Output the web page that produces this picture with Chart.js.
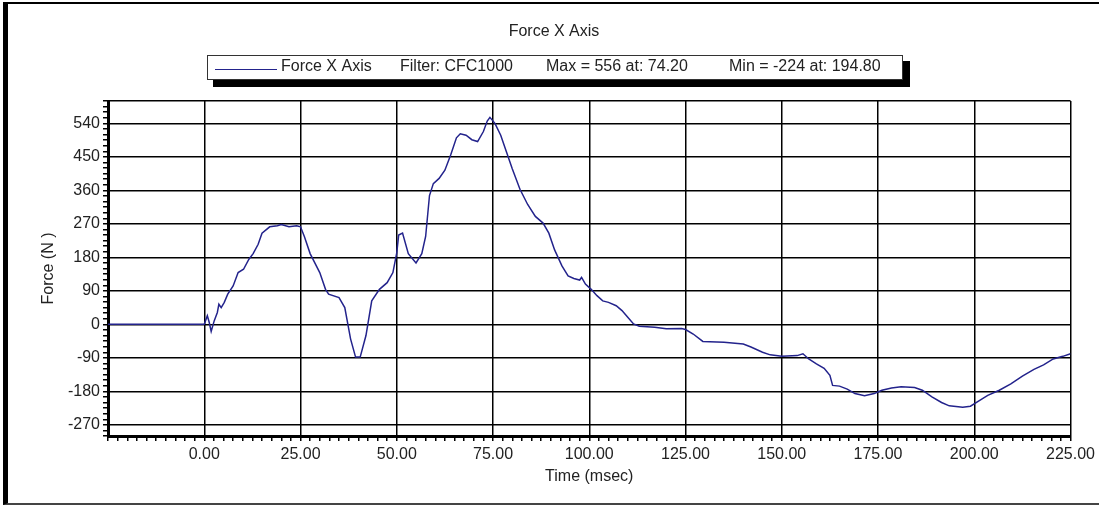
<!DOCTYPE html>
<html>
<head>
<meta charset="utf-8">
<title>Force X Axis</title>
<script src="https://cdn.jsdelivr.net/npm/chart.js@4"></script>
<style>
    html, body { margin: 0; padding: 0; background: #fff; }
    #frame {
        position: absolute; left: 3px; top: 2px; width: 1096px; height: 503px;
        box-sizing: border-box;
        border-left: 5px solid #000; border-top: 2px solid #000; border-bottom: 2px solid #444;
    }
    #wrap { position: absolute; left: 0; top: 0; width: 1099px; height: 506px; }
</style>
</head>
<body>
<div id="frame"></div>
<div id="wrap"><canvas id="force_chart"></canvas></div>
<script>
// chart text
var chartTitle = 'Force X Axis';
var xTitle = 'Time (msec)';
var yTitle = 'Force (N )';
var legendTexts = ['Force X Axis', 'Filter: CFC1000', 'Max = 556 at: 74.20', 'Min = -224 at: 194.80'];

// axis ticks
var xMajorStep = 25;
var xMinorStep = 2.5;
var yMajorStep = 90;
var yMinorStep = 15;

// samples (msec, N)
var timeMs = [
    -25, 0, 0.8, 1.3, 1.8, 2.6, 3.4, 3.8, 4.4, 5.2, 6.1, 7.5, 8.8, 10.2, 11.6, 12.7, 14, 15, 17, 19,
    20, 22, 24, 25, 26, 27.5, 30, 31.5, 32.3, 35, 36.5, 38, 39.3, 40.5, 42, 43.5, 45.5, 47.5, 49, 50,
    50.5, 51.5, 53, 55, 56.5, 57.5, 58.5, 59.5, 61, 62.5, 64, 65.5, 66.5, 68, 69.5, 71, 72.5, 73.5, 74.2, 75.5,
    77, 78.5, 80, 82, 84, 86, 88, 89.5, 91, 92.9, 94.5, 96, 97.5, 98, 99, 100.5, 102, 103.5, 105, 107,
    108.5, 110, 111.5, 113, 117, 120, 124, 125, 127, 129.5, 135, 140, 142, 145, 147, 150, 154, 155.5, 157, 159,
    161, 162.5, 163.2, 165, 167, 169, 171.5, 174, 176, 178.5, 181, 184.5, 186.5, 189, 191.5, 193.5, 197, 199, 201, 203.5,
    206.5, 209.5, 212.5, 215.5, 218, 220.5, 223, 225
];
var forceN = [
    0, 0, 23, 5, -19, 10, 32, 54, 45, 59, 81, 103, 139, 148, 175, 190, 215, 245, 262, 265,
    268, 262, 265, 262, 236, 190, 139, 94, 81, 72, 45, -39, -88, -88, -30, 63, 94, 112, 139, 192,
    240, 245, 190, 165, 190, 236, 346, 378, 392, 414, 455, 501, 512, 508, 496, 491, 518, 546, 556, 540,
    508, 463, 418, 363, 322, 290, 272, 245, 200, 157, 130, 123, 119, 126, 108, 94, 77, 63, 59, 50,
    37, 19, 1, -5, -8, -12, -11, -14, -26, -46, -48, -53, -61, -75, -82, -86, -84, -79, -93, -106,
    -118, -137, -164, -166, -174, -186, -192, -186, -177, -171, -168, -170, -177, -195, -210, -219, -223, -220, -207, -191,
    -177, -160, -139, -121, -109, -93, -86, -79
];

var lineColor = '#23238c';

var points = timeMs.map(function(t, i) { return { x: t, y: forceN[i] }; });

function isMultiple(v, step) {
    return Math.abs(v / step - Math.round(v / step)) < 1e-6;
}

// title and the boxed legend with its drop shadow
var headerPlugin = {
    id: 'header',
    afterDraw: function(chart) {
        var ctx = chart.ctx;
        var xs = [281, 400, 546, 729];
        ctx.save();
        ctx.font = '16px "Liberation Sans", Arial, sans-serif';
        ctx.textBaseline = 'middle';
        ctx.textAlign = 'center';
        ctx.fillStyle = '#222';
        ctx.fillText(chartTitle, 554, 32);

        ctx.fillStyle = '#000';
        ctx.fillRect(213, 61, 697, 26);
        ctx.fillStyle = '#fff';
        ctx.fillRect(207, 55, 696, 25);
        ctx.strokeStyle = '#333';
        ctx.lineWidth = 1;
        ctx.strokeRect(207.5, 55.5, 695, 24);

        ctx.strokeStyle = lineColor;
        ctx.lineWidth = 1.2;
        ctx.beginPath();
        ctx.moveTo(215, 69.5);
        ctx.lineTo(277, 69.5);
        ctx.stroke();

        ctx.textAlign = 'left';
        ctx.fillStyle = '#222';
        legendTexts.forEach(function(txt, i) { ctx.fillText(txt, xs[i], 67); });
        ctx.restore();
    }
};

Chart.defaults.font.family = '"Liberation Sans", Arial, sans-serif';
Chart.defaults.font.size = 16;
Chart.defaults.color = '#222';

new Chart('force_chart', {
    type: 'line',
    data: {
        datasets: [{
            label: 'Force X Axis',
            data: points,
            borderColor: lineColor,
            borderWidth: 1.5,
            pointRadius: 0,
            tension: 0,
            fill: false
        }]
    },
    options: {
        responsive: true,
        maintainAspectRatio: false,
        animation: false,
        layout: { padding: { top: 101, right: 27, left: 0, bottom: 0 } },
        plugins: {
            legend: { display: false },
            title: { display: false },
            tooltip: { enabled: false }
        },
        scales: {
            x: {
                type: 'linear',
                min: -25,
                max: 225,
                afterFit: function(s) { s.height = 70; },
                ticks: {
                    stepSize: xMinorStep,
                    autoSkip: false,
                    maxRotation: 0,
                    padding: 4,
                    callback: function(v) {
                        return (v >= 0 && isMultiple(v, xMajorStep)) ? v.toFixed(2) : '';
                    }
                },
                grid: {
                    color: function(c) { return isMultiple(c.tick.value, xMajorStep) ? '#000' : 'rgba(0,0,0,0)'; },
                    lineWidth: 1.5,
                    tickLength: 5,
                    tickColor: '#000',
                    tickWidth: 1.5
                },
                border: { color: '#000', width: 3 },
                title: { display: true, text: xTitle, padding: { top: 0, bottom: 20 } }
            },
            y: {
                min: -300,
                max: 600,
                afterFit: function(s) { s.width = 108; },
                ticks: {
                    stepSize: yMinorStep,
                    autoSkip: false,
                    padding: 3,
                    callback: function(v) {
                        return (v >= -270 && v <= 540 && isMultiple(v, yMajorStep)) ? String(v) : '';
                    }
                },
                grid: {
                    color: function(c) {
                        var v = c.tick.value;
                        return (isMultiple(v, yMajorStep) || v === 600) ? '#000' : 'rgba(0,0,0,0)';
                    },
                    lineWidth: 1.5,
                    tickLength: 5,
                    tickColor: '#000',
                    tickWidth: 1.5
                },
                border: { color: '#000', width: 3 },
                title: { display: true, text: yTitle, padding: { top: 39, bottom: 0 } }
            }
        }
    },
    plugins: [headerPlugin]
});
</script>
</body>
</html>
